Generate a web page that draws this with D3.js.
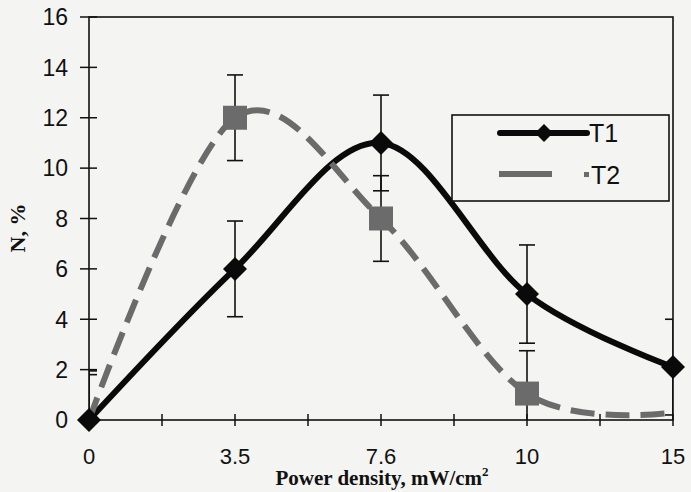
<!DOCTYPE html>
<html>
<head>
<meta charset="utf-8">
<script src="https://cdn.jsdelivr.net/npm/d3@7"></script>
<style>
  body { margin: 0; background: #f4f4f2; }
  svg { display: block; }
</style>
</head>
<body>
<svg width="691" height="492"></svg>
<script>
// values
var categories = ["0", "3.5", "7.6", "10", "15"];
var t1 = [0, 6, 11, 5, 2.1];
var t1Err = [1.95, 1.9, 1.9, 1.95, 1.9];
var t2 = [0, 12, 8, 1.05, 0.3];
var t2Err = [1.8, 1.7, 1.7, 1.7, 1.7];
var yTicks = [0, 2, 4, 6, 8, 10, 12, 14, 16];

var svg = d3.select("svg"),
    width = +svg.attr("width"),
    height = +svg.attr("height");

var plotLeft = 89, plotRight = 673, plotTop = 17, plotBottom = 420;

// categories sit on every second tick of an evenly spaced axis
var x = d3.scaleLinear().domain([0, (categories.length - 1) * 2]).range([plotLeft, plotRight]);
var y = d3.scaleLinear().domain([0, 16]).range([plotBottom, plotTop]);

function cx(i) { return x(i * 2); }

var t1Data = t1.map(function(v, i) { return {i: i, v: v, e: t1Err[i]}; });
var t2Data = t2.map(function(v, i) { return {i: i, v: v, e: t2Err[i]}; });

svg.append("clipPath").attr("id", "plot")
  .append("rect")
    .attr("x", plotLeft).attr("y", plotTop)
    .attr("width", plotRight - plotLeft).attr("height", plotBottom - plotTop);

// frame
svg.append("rect")
    .attr("x", plotLeft).attr("y", plotTop)
    .attr("width", plotRight - plotLeft).attr("height", plotBottom - plotTop)
    .attr("fill", "none").attr("stroke", "#111").attr("stroke-width", 1.6);

// y axis ticks
var yAxis = svg.append("g");
yAxis.selectAll("line")
    .data(yTicks)
    .enter().append("line")
    .attr("x1", plotLeft - 9).attr("x2", plotLeft + 8)
    .attr("y1", function(d) { return y(d); })
    .attr("y2", function(d) { return y(d); })
    .attr("stroke", "#111").attr("stroke-width", 1.5);
yAxis.selectAll("text")
    .data(yTicks)
    .enter().append("text")
    .attr("x", 68)
    .attr("y", function(d) { return y(d); })
    .attr("dy", "0.36em")
    .attr("text-anchor", "end")
    .attr("font-family", "Liberation Sans, Arial, sans-serif")
    .attr("font-size", "23px")
    .attr("fill", "#111")
    .text(function(d) { return d; });

// x axis ticks (every unit) and labels (every second)
var xAxis = svg.append("g");
xAxis.selectAll("line")
    .data(d3.range(0, (categories.length - 1) * 2 + 1))
    .enter().append("line")
    .attr("x1", function(d) { return x(d); })
    .attr("x2", function(d) { return x(d); })
    .attr("y1", plotBottom - 6).attr("y2", plotBottom + 6)
    .attr("stroke", "#111").attr("stroke-width", 1.5);
xAxis.selectAll("text")
    .data(categories)
    .enter().append("text")
    .attr("x", function(d, i) { return cx(i); })
    .attr("y", 464)
    .attr("text-anchor", "middle")
    .attr("font-family", "Liberation Sans, Arial, sans-serif")
    .attr("font-size", "22px")
    .attr("fill", "#111")
    .text(function(d) { return d; });

// axis titles
var xt = svg.append("text")
    .attr("x", 382).attr("y", 485)
    .attr("text-anchor", "middle")
    .attr("font-family", "Liberation Serif, Times New Roman, serif")
    .attr("font-weight", "bold")
    .attr("font-size", "21px")
    .attr("fill", "#111");
xt.append("tspan").text("Power density, mW/cm");
xt.append("tspan").attr("dy", -9).attr("font-size", "13px").text("2");

svg.append("text")
    .attr("transform", "translate(25,228) rotate(-90)")
    .attr("text-anchor", "middle")
    .attr("font-family", "Liberation Serif, Times New Roman, serif")
    .attr("font-weight", "bold")
    .attr("font-size", "22px")
    .attr("fill", "#111")
    .text("N, %");

var plot = svg.append("g").attr("clip-path", "url(#plot)");

// error bars
function errorBars(data) {
  var g = plot.append("g").attr("stroke", "#111").attr("stroke-width", 1.6);
  data.forEach(function(d) {
    var px = cx(d.i);
    g.append("line").attr("x1", px).attr("x2", px)
        .attr("y1", y(d.v - d.e)).attr("y2", y(d.v + d.e));
    [d.v - d.e, d.v + d.e].forEach(function(v) {
      g.append("line").attr("x1", px - 8).attr("x2", px + 8)
          .attr("y1", y(v)).attr("y2", y(v));
    });
  });
}
errorBars(t1Data);
errorBars(t2Data);

var line = d3.line()
    .x(function(d) { return cx(d.i); })
    .y(function(d) { return y(d.v); })
    .curve(d3.curveCardinal.tension(0));

// T1
plot.append("path")
    .datum(t1Data)
    .attr("d", line)
    .attr("fill", "none")
    .attr("stroke", "#0a0a0a")
    .attr("stroke-width", 6);

// T2
plot.append("path")
    .datum(t2Data)
    .attr("d", line)
    .attr("fill", "none")
    .attr("stroke", "#6b6b6b")
    .attr("stroke-width", 6)
    .attr("stroke-dasharray", "24,11");

// T2 squares only show at the inner points
svg.append("g")
  .selectAll("rect")
  .data(t2Data.filter(function(d) { return d.i > 0 && d.i < t2.length - 1; }))
  .enter().append("rect")
    .attr("x", function(d) { return cx(d.i) - 12; })
    .attr("y", function(d) { return y(d.v) - 12; })
    .attr("width", 24).attr("height", 24)
    .attr("fill", "#6b6b6b");

svg.append("g")
  .selectAll("path")
  .data(t1Data)
  .enter().append("path")
    .attr("transform", function(d) { return "translate(" + cx(d.i) + "," + y(d.v) + ")"; })
    .attr("d", "M0,-12L12,0L0,12L-12,0Z")
    .attr("fill", "#0a0a0a");

// legend
var legend = svg.append("g");
legend.append("rect")
    .attr("x", 452).attr("y", 115)
    .attr("width", 217).attr("height", 86)
    .attr("fill", "#f4f4f2").attr("stroke", "#111").attr("stroke-width", 1.6);
legend.append("line")
    .attr("x1", 500).attr("x2", 587).attr("y1", 133).attr("y2", 133)
    .attr("stroke", "#0a0a0a").attr("stroke-width", 6).attr("stroke-linecap", "round");
legend.append("path")
    .attr("transform", "translate(544,133)")
    .attr("d", "M0,-9L9,0L0,9L-9,0Z")
    .attr("fill", "#0a0a0a");
legend.append("line")
    .attr("x1", 499).attr("x2", 552).attr("y1", 174).attr("y2", 174)
    .attr("stroke", "#6b6b6b").attr("stroke-width", 6);
legend.append("rect")
    .attr("x", 584).attr("y", 172).attr("width", 5).attr("height", 5)
    .attr("fill", "#6b6b6b");
legend.append("text")
    .attr("x", 589).attr("y", 142)
    .attr("font-family", "Liberation Sans, Arial, sans-serif")
    .attr("font-size", "25px").attr("fill", "#111")
    .text("T1");
legend.append("text")
    .attr("x", 591).attr("y", 184)
    .attr("font-family", "Liberation Sans, Arial, sans-serif")
    .attr("font-size", "25px").attr("fill", "#111")
    .text("T2");
</script>
</body>
</html>
